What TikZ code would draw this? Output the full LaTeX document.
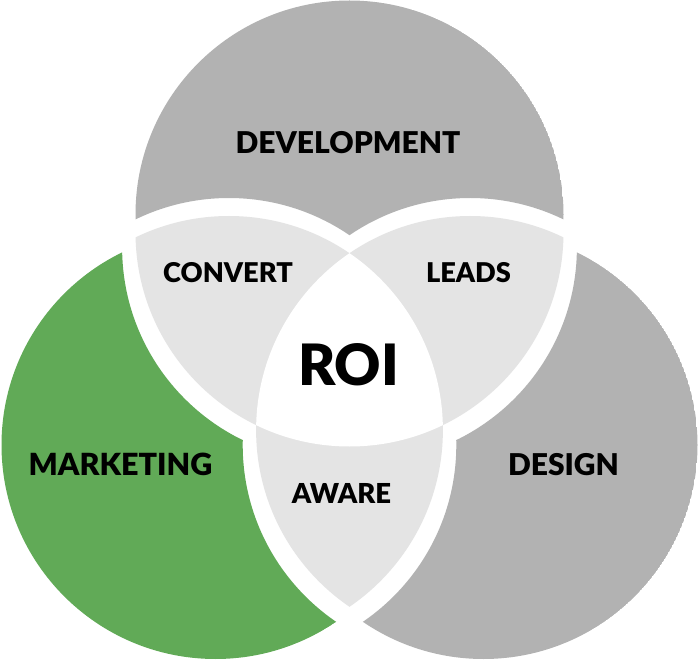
\documentclass[tikz,border=0pt]{standalone}
\usepackage{fontspec}
\setmainfont{Lato}
\newfontfamily\heavyfont{Lato Black}
\definecolor{dgray}{HTML}{B2B2B2}
\definecolor{mgreen}{HTML}{61AA57}
\definecolor{lgray}{HTML}{E4E4E4}
\begin{document}
\begin{tikzpicture}[x=1pt,y=-1pt,
  lbl/.style={anchor=base, inner sep=0pt, text=black,
    font=\heavyfont\fontsize{#1}{#1}\selectfont}]
\useasboundingbox (0,0) rectangle (699,660);
\fill[white] (0,0) rectangle (699,660);
\def\rad{214pt}
% inner (un-exploded) circle centres
\coordinate (T) at (349.5,232.5);
\coordinate (L) at (228.9,430);
\coordinate (R) at (470.1,430);
% exploded outer region: DEVELOPMENT (shift 0,-18)
\begin{scope}
  \clip (349.5,214.5) circle (\rad);
  \begin{scope}[even odd rule]
    \clip (-100,-100) rectangle (800,800) (228.9,412) circle (\rad);
    \clip (-100,-100) rectangle (800,800) (470.1,412) circle (\rad);
    \fill[dgray] (349.5,214.5) circle (\rad);
  \end{scope}
\end{scope}
% MARKETING (shift -12.9,15)
\begin{scope}
  \clip (215.5,445) circle (\rad);
  \begin{scope}[even odd rule]
    \clip (-100,-100) rectangle (800,800) (336.1,247.5) circle (\rad);
    \clip (-100,-100) rectangle (800,800) (456.7,445) circle (\rad);
    \fill[mgreen] (215.5,445) circle (\rad);
  \end{scope}
\end{scope}
% DESIGN (shift 12.9,15)
\begin{scope}
  \clip (483.5,445) circle (\rad);
  \begin{scope}[even odd rule]
    \clip (-100,-100) rectangle (800,800) (362.9,247.5) circle (\rad);
    \clip (-100,-100) rectangle (800,800) (242.3,445) circle (\rad);
    \fill[dgray] (483.5,445) circle (\rad);
  \end{scope}
\end{scope}
% pairwise lenses
\begin{scope}
  \clip (T) circle (\rad);
  \fill[lgray] (L) circle (\rad);
  \fill[lgray] (R) circle (\rad);
\end{scope}
\begin{scope}
  \clip (L) circle (\rad);
  \fill[lgray] (R) circle (\rad);
\end{scope}
% centre
\begin{scope}
  \clip (T) circle (\rad);
  \clip (L) circle (\rad);
  \fill[white] (R) circle (\rad);
\end{scope}
% labels
\node[lbl=30] (dev) at (348,154) {DEVELOPMENT};
\node[lbl=27.2] (conv) at (228,283) {CONVERT};
\node[lbl=27.2] (leads) at (468.5,283) {LEADS};
\node[lbl=57] (roi) at (348.5,385) {ROI};
\node[lbl=30.5] (mkt) at (120.5,475) {MARKETING};
\node[lbl=30] (des) at (563.5,475) {DESIGN};
\node[lbl=27.5] (aware) at (341.5,503) {AWARE};
\end{tikzpicture}
\end{document}
